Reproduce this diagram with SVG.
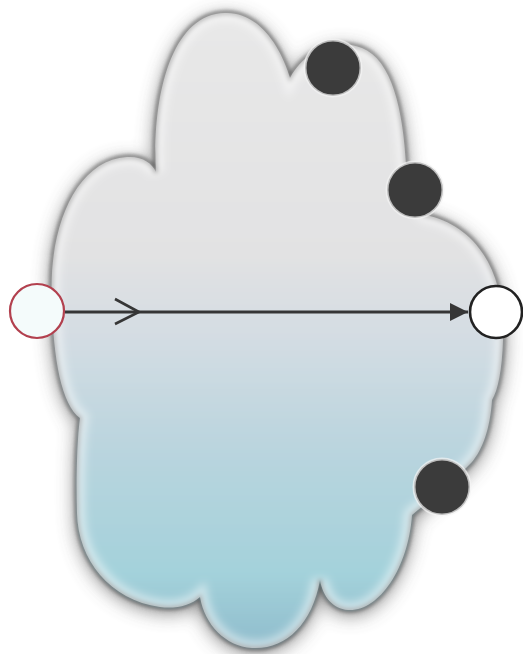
<svg xmlns="http://www.w3.org/2000/svg" width="523" height="654" viewBox="0 0 523 654">
<style>
.port{fill:#3b3b3b;stroke:#f4f4f4;stroke-width:3;stroke-opacity:.7}
.edge{fill:none;stroke:#363636;stroke-width:3}
</style>
<defs>
<linearGradient id="cg" x1="0" y1="0" x2="0" y2="1" gradientUnits="objectBoundingBox">
<stop offset="0" stop-color="#e8e8e8"/>
<stop offset="0.38" stop-color="#e2e2e3"/>
<stop offset="0.5" stop-color="#d5dde3"/>
<stop offset="0.7" stop-color="#b8d4de"/>
<stop offset="0.88" stop-color="#a4d2db"/>
<stop offset="1" stop-color="#8fbccc"/>
</linearGradient>
<filter id="sh" x="-20%" y="-20%" width="140%" height="140%"><feGaussianBlur stdDeviation="10"/></filter>
<filter id="rim" x="-10%" y="-10%" width="120%" height="120%"><feGaussianBlur stdDeviation="2.2"/></filter>
<filter id="inner" x="-10%" y="-10%" width="120%" height="120%"><feGaussianBlur stdDeviation="4"/></filter>
<filter id="soft"><feGaussianBlur stdDeviation="0.6"/></filter>
<path id="cp" d="M 52,300 C 48,230 75,160 127,157 C 142,156 152,163 156,172 C 152,100 170,14 225,13 C 258,12 280,45 290,78 C 305,50 335,38 362,48 C 392,60 403,110 406,165 C 412,190 418,210 425,215 C 475,225 506,270 503,340 C 502,370 498,390 492,400 C 490,430 482,450 472,462 C 455,480 430,500 412,515 C 408,570 378,612 348,610 C 333,609 323,597 320,580 C 312,625 285,650 252,648 C 225,646 205,625 200,597 C 190,606 175,609 160,607 C 110,600 78,560 77,513 C 76,480 77,440 80,418 C 62,405 53,360 52,300 Z"/>
<clipPath id="cc"><use href="#cp"/></clipPath>
<marker id="tri" viewBox="0 0 10 10" refX="10" refY="5" markerWidth="8" markerHeight="6" markerUnits="strokeWidth" orient="auto"><path d="M0,0 L10,5 L0,10 Z" fill="#363636"/></marker>
</defs>
<rect width="523" height="654" fill="#ffffff"/>
<g id="cloud">
<use href="#cp" fill="#5e5e5e" opacity="0.85" filter="url(#sh)" transform="translate(0,4)"/>
<use href="#cp" fill="url(#cg)" stroke="#555555" stroke-width="3.5" filter="url(#rim)"/>
<g clip-path="url(#cc)"><use href="#cp" fill="none" stroke="#ffffff" stroke-opacity="0.5" stroke-width="16" filter="url(#inner)"/></g>
</g>
<g id="port-1"><circle class="port" cx="333" cy="68" r="28" filter="url(#soft)"/></g>
<g id="port-2"><circle class="port" cx="415" cy="190" r="28" filter="url(#soft)"/></g>
<g id="port-3"><circle class="port" cx="442" cy="487" r="28" filter="url(#soft)"/></g>
<g id="connectors">
<line class="edge" x1="65" y1="312" x2="468" y2="312" marker-end="url(#tri)"/>
<path d="M115,299 L139,312 L115,324" fill="none" stroke="#363636" stroke-width="2.6" stroke-linejoin="miter"/>
</g>
<g id="start"><circle cx="37" cy="311" r="27" fill="#f4fbfb" stroke="#b2404e" stroke-width="2.2"/></g>
<g id="end"><circle cx="496" cy="312" r="26" fill="#ffffff" stroke="#222222" stroke-width="2.6"/></g>
</svg>
